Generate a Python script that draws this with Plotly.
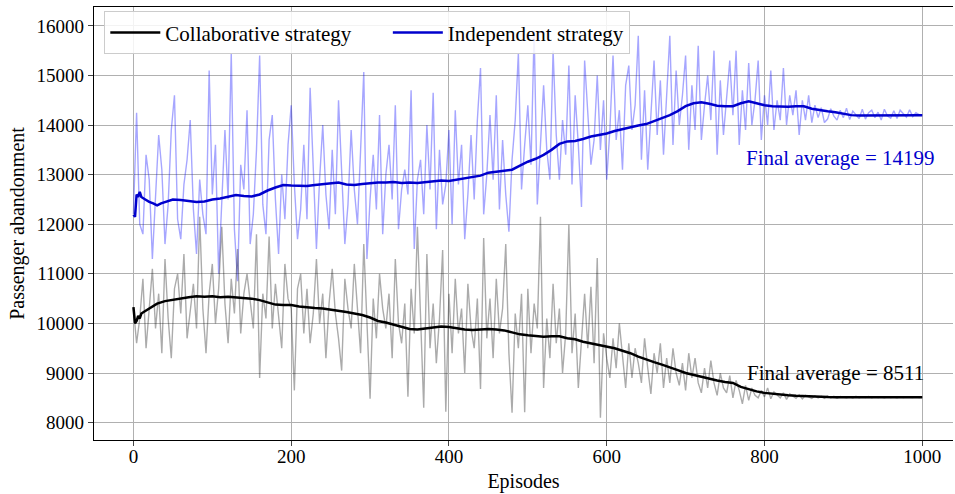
import plotly.graph_objects as go

# ---------------- data ----------------
raw_episodes = list(range(0, 1001, 4))

independent_raw = [
    12200, 14250, 12000, 11800, 13400, 12900, 11300, 12600, 13800, 13100,
    11600, 12400, 13900, 14600, 12100, 11700, 12800, 13300, 14100, 12300,
    11400, 12900, 12200, 11800, 15100, 12600, 13600, 11000, 12300, 13900,
    12500, 15450, 11900, 10850, 13200, 12700, 14300, 11600, 12200, 13500,
    15400, 12400, 11800, 13700, 14200, 12500, 11400, 13000, 12100, 13600,
    14400, 12800, 11700, 12300, 13600, 12100, 14750, 13200, 11500, 12900,
    14000, 12600, 11900, 13500, 12200, 14500, 13100, 11600, 12400, 13900,
    12700, 12000, 13500, 15070, 11300, 12500, 13400, 12300, 14200, 11800,
    13000, 13600, 12500, 14400, 11900, 12700, 13100, 12600, 14700, 11500,
    12900, 13300, 12200, 14000, 12700, 14650, 11900, 13500, 12400, 12800,
    13900, 12000, 14300, 12800, 13600, 11700, 12600, 13800, 12500, 14100,
    15150, 12200, 13000, 14200, 12900, 14600, 12300, 13700, 12600, 11850,
    13300, 14100, 15450, 12700, 13600, 14400, 13200, 15900, 12400, 13700,
    14800, 13500, 12900, 15500, 13800, 12900, 14100, 13400, 15200, 12800,
    14600, 13600, 12350, 15300, 14200, 13200, 13700, 15000, 13500, 14500,
    12900, 13900, 15400, 13700, 14300, 13100, 14800, 15200, 13900, 14400,
    15800, 13300, 14700, 13100, 14200, 15300, 13800, 14900, 13400, 14500,
    15800, 13600, 15100, 14000, 14600, 15400, 13500, 14800, 13900, 15600,
    13700, 14400, 15000, 14100, 15500, 13400, 14900, 13800, 14600, 15300,
    14200, 15500, 13600, 14700, 13900, 15250, 14000, 14500, 15300, 13700,
    14600, 14000, 15100, 13900, 14500, 14100, 15150, 14000, 14600, 14200,
    14700, 13800, 14500, 14100, 14600, 14050, 14400, 14150, 14350, 14050,
    14120, 14330, 14180, 14100, 14300, 14150, 14340, 14110, 14280, 14200,
    14130, 14320, 14120, 14250, 14300, 14150, 14260, 14100, 14320, 14180,
    14140, 14290, 14130, 14300, 14220, 14160, 14310, 14170, 14250, 14210,
    14200,
]

collaborative_raw = [
    10300, 9600, 10100, 10900, 9500, 10400, 11100, 9900, 10600, 9400,
    11300, 10100, 9300, 10700, 11000, 10200, 11400, 9700, 10300, 10800,
    9900, 12150, 10300, 9400, 10600, 11200, 10000, 10700, 11950, 10400,
    9600, 10900, 10200, 11500, 9800, 10600, 11000, 10400, 9900, 11800,
    8900, 10600, 10100, 11750, 9900, 10800, 10200, 9500, 11200, 10500,
    10300, 8650, 10700, 11000, 9800, 10700, 9600, 10200, 11300, 10000,
    10600, 9300, 10400, 11100, 10200, 9700, 9050, 10900, 10300, 9900,
    11200, 10300, 9400, 11600, 10100, 8480, 10500, 9700, 11000, 10300,
    9900, 10600, 9300, 11300, 10000, 9600, 10400, 8520, 10700, 9800,
    11950, 10200, 8300, 11400, 9500, 10400, 9200, 10100, 11480, 8220,
    10600, 9400, 10900, 9800, 10300, 9000, 10800, 9900, 9500, 10500,
    8680, 11720, 9700, 10500, 9300, 10900, 9800, 10300, 11600, 9400,
    8200, 10200, 9500, 10600, 8210, 10700, 9400, 10400, 9900, 12150,
    8700, 10100, 9300, 10800, 9600, 10300, 9000, 9800, 11990, 9400,
    10200, 8700, 9600, 10600, 9500, 10740, 9200, 11320, 8100, 9800,
    9300, 8900, 9700, 9100, 10000, 9400, 8700, 9600, 8900, 9500,
    9200, 8800, 9700, 9100, 8580, 9400, 9000, 9600, 8700, 9300,
    8800, 9500, 9000, 8750, 9200, 8650, 9400, 8900, 9300, 8800,
    8600, 9100, 8700, 9250, 8800, 8550, 9000, 8700, 8600, 8950,
    8500, 8850, 8650, 8380, 8750, 8450, 8700, 8550, 8500, 8650,
    8520, 8700, 8480, 8620, 8560, 8500, 8600, 8470, 8580, 8540,
    8490, 8560, 8480, 8550, 8520, 8490, 8540, 8500, 8530, 8490,
    8540, 8500, 8530, 8495, 8525, 8510, 8500, 8520, 8495, 8530,
    8500, 8520, 8505, 8525, 8500, 8520, 8505, 8515, 8500, 8520,
    8505, 8515, 8500, 8520, 8505, 8515, 8510, 8505, 8520, 8505,
    8511,
]

independent_avg_ep = [0, 2, 4, 6, 8, 10, 15, 20, 25, 30, 35, 40] + list(range(50, 1001, 10))
independent_avg = [
    12200, 12150, 12600, 12550, 12650, 12550, 12500, 12450, 12420, 12380, 12420, 12450,
    12500, 12490, 12470, 12450, 12460, 12500, 12520, 12560, 12590, 12570,
    12560, 12600, 12680, 12740, 12790, 12780, 12770, 12770, 12790, 12810,
    12830, 12840, 12800, 12790, 12810, 12830, 12840, 12840, 12850, 12830,
    12840, 12830, 12850, 12870, 12880, 12870, 12900, 12920, 12960, 12980,
    13040, 13060, 13070, 13100, 13180, 13260, 13320, 13400, 13500, 13620,
    13670, 13680, 13720, 13770, 13800, 13830, 13880, 13920, 13950, 13990,
    14020, 14080, 14150, 14200, 14280, 14380, 14440, 14460, 14430, 14390,
    14380, 14380, 14440, 14480, 14440, 14400, 14380, 14370, 14370, 14380,
    14380, 14330, 14300, 14280, 14260, 14230, 14200, 14190, 14190, 14195,
    14200, 14200, 14195, 14200, 14200, 14199,
]

collaborative_avg_ep = [0, 2, 4, 6, 8, 10, 15, 20, 25, 30, 40] + list(range(50, 1001, 10))
collaborative_avg = [
    10330, 10000, 10050, 10150, 10100, 10200, 10250, 10300, 10350, 10400, 10450,
    10480, 10510, 10530, 10550, 10540, 10550, 10530, 10540, 10530, 10520,
    10500, 10470, 10420, 10380, 10370, 10370, 10340, 10320, 10310, 10300,
    10280, 10260, 10230, 10200, 10170, 10120, 10050, 10020, 9980, 9930,
    9890, 9880, 9900, 9920, 9940, 9930, 9900, 9880, 9870, 9880,
    9890, 9880, 9860, 9820, 9780, 9760, 9740, 9730, 9740, 9740,
    9700, 9680, 9630, 9600, 9560, 9530, 9500, 9450, 9400, 9330,
    9270, 9220, 9170, 9120, 9060, 9000, 8960, 8920, 8880, 8850,
    8820, 8800, 8720, 8670, 8630, 8600, 8580, 8560, 8550, 8540,
    8530, 8520, 8518, 8515, 8513, 8512, 8512, 8511, 8511, 8511,
    8511, 8511, 8511, 8511, 8511, 8511,
]

x_ticks = [0, 200, 400, 600, 800, 1000]
y_ticks = [8000, 9000, 10000, 11000, 12000, 13000, 14000, 15000, 16000]
y_tick_labels = [str(v) for v in y_ticks]

FONT = "Liberation Serif"
NBSP = "\u00a0"

fig = go.Figure()

fig.add_trace(go.Scatter(x=raw_episodes, y=independent_raw, mode="lines",
                         line=dict(color="rgba(0,0,255,0.35)", width=1.4),
                         showlegend=False, hoverinfo="skip"))
fig.add_trace(go.Scatter(x=raw_episodes, y=collaborative_raw, mode="lines",
                         line=dict(color="rgba(0,0,0,0.33)", width=1.4),
                         showlegend=False, hoverinfo="skip"))
fig.add_trace(go.Scatter(x=collaborative_avg_ep, y=collaborative_avg, mode="lines",
                         name="Collaborative strategy" + NBSP * 6,
                         line=dict(color="black", width=2.5)))
fig.add_trace(go.Scatter(x=independent_avg_ep, y=independent_avg, mode="lines",
                         name="Independent strategy",
                         line=dict(color="#0000CD", width=2.5)))

fig.add_annotation(x=897, y=13330, text="Final average = 14199", showarrow=False,
                   font=dict(family=FONT, size=21, color="#0000CD"))
fig.add_annotation(x=890, y=9010, text="Final average = 8511", showarrow=False,
                   font=dict(family=FONT, size=21, color="black"))

fig.update_layout(
    width=955, height=494,
    margin=dict(l=94, r=2, t=7, b=54),
    paper_bgcolor="white", plot_bgcolor="white",
    font=dict(family=FONT, size=19, color="black"),
    legend=dict(orientation="h", x=0.012, y=0.99, xanchor="left", yanchor="top",
                bgcolor="rgba(255,255,255,0.85)", bordercolor="#cccccc", borderwidth=1,
                font=dict(family=FONT, size=21), itemwidth=50,
                tracegroupgap=0),
    xaxis=dict(range=[-50, 1039], tickvals=x_ticks, ticks="outside", ticklen=5,
               showline=True, linecolor="black", linewidth=1.2, mirror=True,
               showgrid=True, gridcolor="#b0b0b0", gridwidth=1, zeroline=False,
               title=dict(text="Episodes", font=dict(family=FONT, size=20), standoff=8),
               tickfont=dict(family=FONT, size=19), ticklabelstandoff=-6),
    yaxis=dict(range=[7650, 16380], tickvals=y_ticks, ticktext=y_tick_labels,
               ticks="outside", ticklen=5,
               showline=True, linecolor="black", linewidth=1.2, mirror=False,
               showgrid=True, gridcolor="#b0b0b0", gridwidth=1, zeroline=False,
               title=dict(text="Passenger abandonment", font=dict(family=FONT, size=20), standoff=6),
               tickfont=dict(family=FONT, size=19)),
)

fig.write_html("out.html")
